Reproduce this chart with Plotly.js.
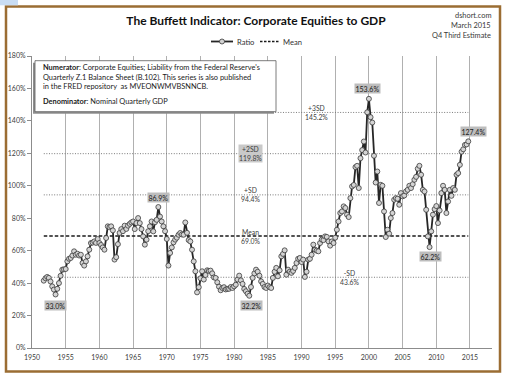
<!DOCTYPE html>
<html>
<head>
<meta charset="utf-8">
<script src="https://cdn.plot.ly/plotly-3.0.1.min.js"></script>
<style>
html,body{margin:0;padding:0;background:#fff;}
#chart{width:506px;height:374px;}
</style>
</head>
<body>
<div id="chart"></div>
<script>
// ---- DATA (quarterly, 1951 Q4 .. 2014 Q4), ratio of corporate equities to GDP, in % ----
const firstQuarter = {year: 1951, quarter: 4};
const ratio = [
  41.5,                       // 1951 Q4
  43.0, 43.8, 43.2, 41.0,     // 1952
  38.0, 36.0, 33.0, 36.5,     // 1953
  40.0, 44.5, 48.3, 48.5,     // 1954
  48.7, 53.4, 55.0, 55.5,     // 1955
  57.0, 59.6, 57.5, 58.1,     // 1956
  57.0, 57.5, 52.4, 50.8,     // 1957
  53.4, 56.5, 60.6, 64.7,     // 1958
  65.0, 65.7, 64.8, 67.2,     // 1959
  64.7, 63.5, 62.0, 60.6,     // 1960
  67.8, 75.0, 74.5, 75.0,     // 1961
  72.5, 54.5, 56.0, 64.0,     // 1962
  70.9, 73.3, 72.0, 75.4,     // 1963
  73.4, 75.4, 76.5, 77.4,     // 1964
  78.0, 73.3, 77.0, 80.1,     // 1965
  77.0, 73.3, 68.8, 63.7,     // 1966
  66.8, 72.0, 75.0, 78.0,     // 1967
  71.9, 77.5, 79.0, 86.9,     // 1968
  81.0, 78.0, 75.0, 72.0,     // 1969
  67.2, 50.8, 58.6, 62.0,     // 1970
  65.1, 66.8, 68.0, 69.8,     // 1971
  70.9, 70.0, 69.8, 77.4,     // 1972
  71.0, 66.5, 65.7, 60.6,     // 1973
  53.4, 47.3, 34.3, 37.5,     // 1974
  43.0, 47.3, 42.2, 45.0,     // 1975
  47.9, 47.5, 47.7, 46.0,     // 1976
  43.5, 43.2, 40.5, 37.8,     // 1977
  35.6, 37.0, 37.5, 36.1,     // 1978
  36.4, 36.5, 37.6, 37.0,     // 1979
  38.0, 39.0, 42.2, 44.6,     // 1980
  41.7, 39.5, 36.4, 35.0,     // 1981
  33.5, 32.2, 37.6, 43.2,     // 1982
  46.0, 48.3, 47.0, 44.6,     // 1983
  41.1, 39.5, 37.6, 37.0,     // 1984
  38.5, 37.5, 37.0, 43.2,     // 1985
  47.0, 49.4, 44.2, 47.9,     // 1986
  56.5, 58.0, 60.2, 45.2,     // 1987
  48.3, 47.0, 46.3, 47.5,     // 1988
  49.4, 52.4, 55.0, 55.5,     // 1989
  53.0, 54.5, 43.8, 47.0,     // 1990
  54.5, 55.0, 57.5, 63.7,     // 1991
  60.6, 60.0, 59.6, 64.7,     // 1992
  66.8, 66.5, 68.8, 68.5,     // 1993
  65.7, 63.1, 65.7, 64.7,     // 1994
  68.0, 72.9, 78.0, 83.2,     // 1995
  84.2, 87.3, 86.3, 82.2,     // 1996
  80.7, 92.4, 99.6, 100.5,    // 1997
  111.5, 112.3, 98.6, 117.0,  // 1998
  122.0, 127.3, 120.5, 145.3, // 1999
  153.6, 142.3, 139.0, 118.5, // 2000
  102.0, 108.8, 89.4, 100.6,  // 2001
  100.0, 84.2, 68.4, 72.9,    // 2002
  70.5, 80.1, 83.2, 91.4,     // 2003
  92.4, 92.0, 88.3, 95.5,     // 2004
  93.5, 94.0, 96.5, 97.5,     // 2005
  100.0, 98.6, 101.0, 103.7,  // 2006
  105.5, 110.5, 112.3, 106.8, // 2007
  97.5, 96.5, 85.2, 68.8,     // 2008
  62.2, 71.9, 82.2, 85.6,     // 2009
  87.5, 77.0, 84.8, 95.5,     // 2010
  100.0, 97.5, 83.2, 90.3,    // 2011
  97.5, 93.8, 98.6, 97.5,     // 2012
  106.8, 107.8, 112.9, 121.0, // 2013
  122.5, 125.2, 125.5, 127.4  // 2014
];
const meanValue = 69.0;
const sdLevels = [43.6, 94.4, 119.8, 145.2];
const sdNames = ['-SD', '+SD', '+2SD', '+3SD'];
const calloutQuarters = ['1953-07-01', '1968-10-01', '1982-04-01', '2000-01-01', '2009-01-01', '2014-10-01'];
const yTicks = [0, 20, 40, 60, 80, 100, 120, 140, 160, 180];
const xTickYears = [1950, 1955, 1960, 1965, 1970, 1975, 1980, 1985, 1990, 1995, 2000, 2005, 2010, 2015];
const seriesNames = ['Ratio', 'Mean'];

// ---- quarter start dates (categories) ----
const dates = ratio.map((_, i) => {
  const q = (firstQuarter.year * 4 + firstQuarter.quarter - 1) + i;
  const y = Math.floor(q / 4);
  const m = (q % 4) * 3 + 1;
  return y + '-' + String(m).padStart(2, '0') + '-01';
});
const firstDate = dates[0], lastDate = dates[dates.length - 1];

// ---- layout helpers (pixel -> paper) ----
const L = 32, R = 14, T = 56, B = 26, W = 506, H = 374;
const PW = W - L - R, PH = H - T - B;
const PX = px => (px - L) / PW;
const PY = py => (H - B - py) / PH;
const FONT = 'Lato, "Open Sans", sans-serif';

const lineStyle = {
  ratio: {color: '#262626', width: 1.8},
  ratioMarker: {symbol: 'circle', size: 5, color: '#d4d4d4', line: {color: '#3a3a3a', width: 0.8}},
  mean: {color: '#1a1a1a', width: 1.6, dash: '3.5px,2px'},
  sd: {color: '#7a7a7a', width: 1, dash: '1px,1.6px'}
};

const traces = [];
sdLevels.forEach(v => {
  traces.push({
    x: [firstDate, lastDate], y: [v, v], mode: 'lines', showlegend: false, hoverinfo: 'skip',
    line: lineStyle.sd
  });
});
traces.push({
  x: [firstDate, lastDate], y: [meanValue, meanValue], mode: 'lines', name: seriesNames[1],
  showlegend: false, hoverinfo: 'skip', line: lineStyle.mean
});
traces.push({
  x: dates, y: ratio, mode: 'lines+markers', name: seriesNames[0], showlegend: false, hoverinfo: 'skip',
  line: lineStyle.ratio, marker: lineStyle.ratioMarker
});

const annotations = [];
// SD / Mean labels
const sdLabelDates = {'-SD': '1997-01-20', '+SD': '1982-06-01', '+2SD': '1982-06-01', '+3SD': '1992-03-01'};
sdLevels.forEach((v, i) => {
  const nm = sdNames[i];
  annotations.push({
    x: sdLabelDates[nm], y: v, xref: 'x', yref: 'y', showarrow: false,
    text: nm + '<br>' + v.toFixed(1) + '%', align: 'center',
    font: {family: FONT, size: 6.8, color: '#404040'},
    bgcolor: nm === '+2SD' ? '#c9c9c9' : 'rgba(0,0,0,0)', borderpad: 0
  });
});
annotations.push({
  x: '1982-06-01', y: meanValue, xref: 'x', yref: 'y', showarrow: false,
  text: 'Mean<br>' + meanValue.toFixed(1) + '%', align: 'center',
  font: {family: FONT, size: 6.8, color: '#404040'}
});
// callouts
const calloutShift = [-11, 10, -10, 10, -9, 10];
const calloutX = [0, 0, 2, -1, 1, 5];
calloutQuarters.forEach((d, i) => {
  const idx = dates.indexOf(d);
  annotations.push({
    x: d, y: ratio[idx], xref: 'x', yref: 'y', showarrow: false,
    yshift: calloutShift[i], xshift: calloutX[i],
    text: ratio[idx].toFixed(1) + '%',
    font: {family: FONT, size: 7, color: '#1a1a1a'},
    bgcolor: '#bdbdbd', borderpad: 0.5
  });
});
// note box text
annotations.push({
  x: PX(40.5), y: PY(77), xref: 'paper', yref: 'paper', xanchor: 'left', yanchor: 'middle',
  showarrow: false, align: 'left',
  text: '<b>Numerator</b>: Corporate Equities; Liability from the Federal Reserve\'s<br>Quarterly Z.1 Balance Sheet (B.102). This series is also published<br>in the FRED repository  as MVEONWMVBSNNCB.',
  font: {family: FONT, size: 7.4, color: '#1a1a1a'}
});
annotations.push({
  x: PX(40.5), y: PY(101.7), xref: 'paper', yref: 'paper', xanchor: 'left', yanchor: 'middle',
  showarrow: false, align: 'left',
  text: '<b>Denominator</b>: Nominal Quarterly GDP',
  font: {family: FONT, size: 7.4, color: '#1a1a1a'}
});
// source text top right
['dshort.com', 'March 2015', 'Q4 Third Estimate'].forEach((t, i) => {
  annotations.push({
    x: PX(493), y: PY(15 + i * 10.5), xref: 'paper', yref: 'paper', xanchor: 'right', yanchor: 'middle',
    showarrow: false, text: t, font: {family: FONT, size: 7.4, color: '#3a3a3a'}
  });
});
// legend text (drawn manually for compact Excel-style legend)
const legendY = 41.5;
annotations.push({
  x: PX(234.5), y: PY(legendY), xref: 'paper', yref: 'paper', xanchor: 'left', yanchor: 'middle',
  showarrow: false, text: seriesNames[0], font: {family: FONT, size: 7.6, color: '#333333'}
});
annotations.push({
  x: PX(281), y: PY(legendY), xref: 'paper', yref: 'paper', xanchor: 'left', yanchor: 'middle',
  showarrow: false, text: seriesNames[1], font: {family: FONT, size: 7.6, color: '#333333'}
});

const shapes = [
  // outer frame
  {type: 'rect', xref: 'paper', yref: 'paper', x0: PX(6), x1: PX(500), y0: PY(371.5), y1: PY(6.5),
   line: {color: '#9b6d33', width: 2.5}, fillcolor: 'rgba(0,0,0,0)', layer: 'below'},
  // small blue corner tab
  {type: 'rect', xref: 'paper', yref: 'paper', x0: PX(0), x1: PX(18), y0: PY(5.3), y1: PY(0),
   line: {width: 0}, fillcolor: '#c9ddf4', layer: 'above'},
  // note box shadow
  {type: 'rect', xref: 'paper', yref: 'paper', x0: PX(33), x1: PX(274), y0: PY(113.7), y1: PY(62.7),
   line: {width: 0}, fillcolor: '#8f8f8f', layer: 'above'},
  // note box
  {type: 'rect', xref: 'paper', yref: 'paper', x0: PX(35), x1: PX(276), y0: PY(111.7), y1: PY(60.7),
   line: {color: '#5a5a5a', width: 0.8}, fillcolor: '#ffffff', layer: 'above'},
  // legend symbols
  {type: 'line', xref: 'paper', yref: 'paper', x0: PX(211), x1: PX(233), y0: PY(legendY), y1: PY(legendY),
   line: {color: lineStyle.ratio.color, width: 1.8}},
  {type: 'circle', xref: 'paper', yref: 'paper', x0: PX(219.5), x1: PX(224.5), y0: PY(legendY + 2.5), y1: PY(legendY - 2.5),
   line: {color: lineStyle.ratioMarker.line.color, width: 0.8}, fillcolor: lineStyle.ratioMarker.color},
  {type: 'line', xref: 'paper', yref: 'paper', x0: PX(260), x1: PX(279), y0: PY(legendY), y1: PY(legendY),
   line: {color: lineStyle.mean.color, width: 1.3, dash: '2.5px,1.5px'}}
];

const layout = {
  width: W, height: H,
  margin: {l: L, r: R, t: T, b: B, pad: 0},
  paper_bgcolor: '#ffffff', plot_bgcolor: '#ffffff',
  font: {family: FONT, color: '#404040'},
  title: {
    text: '<b>The Buffett Indicator: Corporate Equities to GDP</b>',
    font: {family: FONT, size: 12, color: '#111111'},
    xref: 'container', x: 256 / W, xanchor: 'center',
    yref: 'container', y: 1 - 21 / H, yanchor: 'middle'
  },
  showlegend: false,
  xaxis: {
    type: 'date', range: ['1950-01-01', '2018-04-08'],
    tickmode: 'array', tickvals: xTickYears.map(y => y + '-01-01'), ticktext: xTickYears.map(String),
    showgrid: true, gridcolor: '#b0b0b0', gridwidth: 1,
    showline: true, linecolor: '#8c8c8c', linewidth: 1,
    ticks: 'outside', ticklen: 3, tickcolor: 'rgba(0,0,0,0)', zeroline: false, fixedrange: true,
    tickfont: {family: FONT, size: 7, color: '#404040'}
  },
  yaxis: {
    range: [0, 180], tickmode: 'array', tickvals: yTicks, ticktext: yTicks.map(v => v + '%'),
    showgrid: false, showline: true, linecolor: '#8c8c8c', linewidth: 1,
    ticks: 'outside', ticklen: 4, tickcolor: '#8c8c8c', zeroline: false, fixedrange: true,
    tickfont: {family: FONT, size: 7, color: '#404040'}
  },
  annotations: annotations,
  shapes: shapes
};

Plotly.newPlot('chart', traces, layout, {staticPlot: true, displayModeBar: false});
</script>
</body>
</html>
